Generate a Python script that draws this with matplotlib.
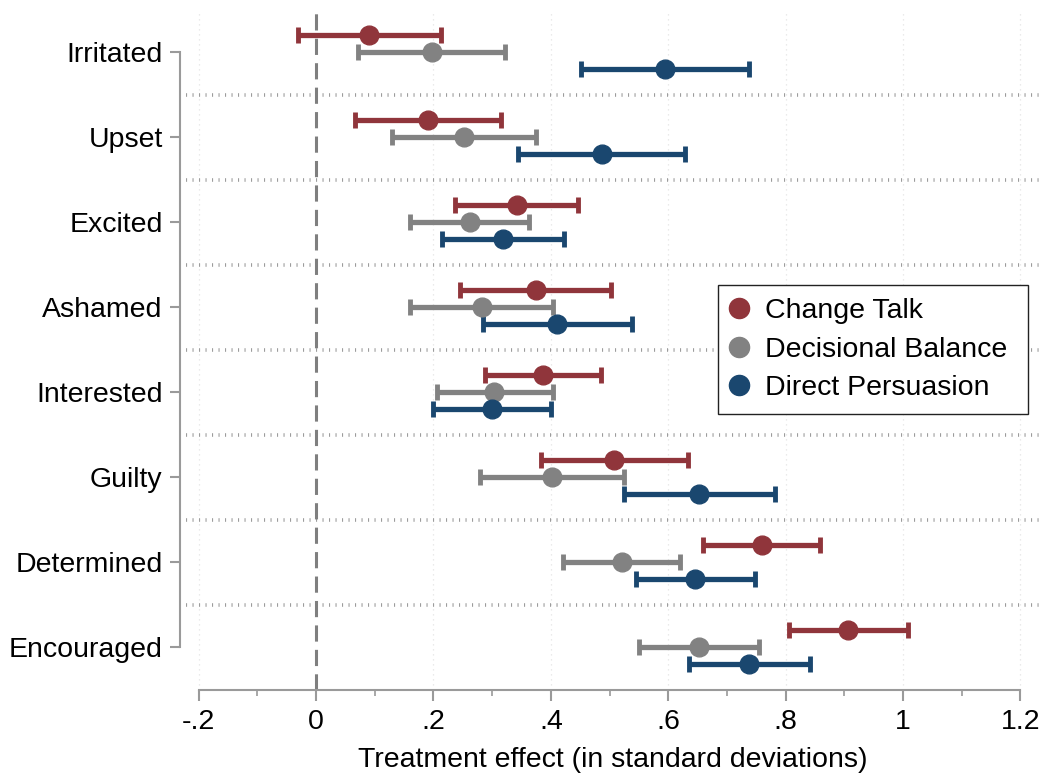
import matplotlib
matplotlib.use('Agg')
import matplotlib.pyplot as plt
from matplotlib.lines import Line2D
import numpy as np

plt.rcParams['font.family'] = ['Liberation Sans', 'DejaVu Sans']

# Data (treatment effects with 95% CIs)
categories = ['Irritated', 'Upset', 'Excited', 'Ashamed', 'Interested',
              'Guilty', 'Determined', 'Encouraged']

change_talk_est = [0.091, 0.191, 0.342, 0.375, 0.387, 0.508, 0.760, 0.906]
change_talk_lo = [-0.030, 0.066, 0.237, 0.245, 0.288, 0.383, 0.660, 0.806]
change_talk_hi = [0.213, 0.315, 0.447, 0.503, 0.486, 0.633, 0.859, 1.009]

decisional_est = [0.197, 0.252, 0.262, 0.282, 0.304, 0.402, 0.521, 0.653]
decisional_lo = [0.072, 0.129, 0.160, 0.160, 0.206, 0.279, 0.420, 0.550]
decisional_hi = [0.322, 0.374, 0.362, 0.403, 0.404, 0.525, 0.620, 0.755]

direct_est = [0.594, 0.487, 0.318, 0.411, 0.300, 0.653, 0.646, 0.738]
direct_lo = [0.451, 0.344, 0.214, 0.284, 0.200, 0.524, 0.545, 0.635]
direct_hi = [0.737, 0.628, 0.422, 0.538, 0.400, 0.782, 0.747, 0.841]

series_names = ['Change Talk', 'Decisional Balance', 'Direct Persuasion']
xticks = [-0.2, 0, 0.2, 0.4, 0.6, 0.8, 1.0, 1.2]
xtick_labels = ['-.2', '0', '.2', '.4', '.6', '.8', '1', '1.2']

colors = ['#90353B', '#828282', '#1A476F']
offsets = [-0.2, 0.0, 0.2]
axis_grey = '#9a9a9a'

fig = plt.figure(figsize=(10.46, 7.75), dpi=100)
ax = fig.add_axes([0.1778, 0.1103, 0.8165, 0.8774])

ypos = np.arange(len(categories))

# faint vertical gridlines at major ticks (except zero)
for xv in xticks:
    if xv != 0:
        ax.axvline(xv, color='#e4e4e4', lw=0.9, ls=(0, (1, 3)), zorder=0)

# dotted separators between emotions (short tick-like dots)
for yv in ypos[:-1] + 0.5:
    ax.axhline(yv, color='#9c9c9c', lw=2.6, ls=(0, (0.3, 1.5)),
               dash_capstyle='butt', zorder=1)

ax.axvline(0, color='#7f7f7f', lw=2.2, ls=(0, (5.3, 2.7)), zorder=1)

series = [
    (change_talk_est, change_talk_lo, change_talk_hi),
    (decisional_est, decisional_lo, decisional_hi),
    (direct_est, direct_lo, direct_hi),
]
for (est, lo, hi), col, off in zip(series, colors, offsets):
    est = np.array(est)
    err = [est - np.array(lo), np.array(hi) - est]
    ax.errorbar(est, ypos + off, xerr=err, fmt='o', color=col, ms=13.5,
                elinewidth=3.8, capsize=5.5, capthick=3.5, zorder=3)

ax.set_xlim(-0.2215, 1.2334)
ax.set_ylim(len(categories) - 0.5, -0.5)

ax.set_xticks(xticks)
ax.set_xticklabels(xtick_labels)
ax.set_xticks(np.arange(-0.1, 1.2, 0.2), minor=True)
ax.set_yticks(ypos)
ax.set_yticklabels(categories)

ax.tick_params(axis='x', which='major', length=8, width=1.5, color=axis_grey,
               labelsize=20.5, pad=6)
ax.tick_params(axis='x', which='minor', length=4, width=1.2, color=axis_grey)
ax.tick_params(axis='y', length=7.5, width=1.5, color=axis_grey,
               labelsize=20.5, pad=5)

for side in ['top', 'right']:
    ax.spines[side].set_visible(False)
ax.spines['bottom'].set_bounds(-0.2, 1.2)
ax.spines['left'].set_bounds(0, len(categories) - 1)
ax.spines['left'].set_position(('outward', 4.3))
for side in ['bottom', 'left']:
    ax.spines[side].set_color(axis_grey)
    ax.spines[side].set_linewidth(1.5)

ax.set_xlabel('Treatment effect (in standard deviations)', fontsize=20.5,
              labelpad=9)

handles = [Line2D([], [], ls='', marker='o', ms=14.5, color=c) for c in colors]
leg = ax.legend(handles, series_names, loc='center',
                bbox_to_anchor=(0.623, 0.4, 0.363, 0.2), mode='expand',
                borderaxespad=0, fontsize=20.5, fancybox=False,
                edgecolor='#222222', framealpha=1, handlelength=0.55,
                handletextpad=0.65, labelspacing=0.45, borderpad=0.45)
leg.get_frame().set_linewidth(1.0)

fig.savefig('out.png', dpi=100)
